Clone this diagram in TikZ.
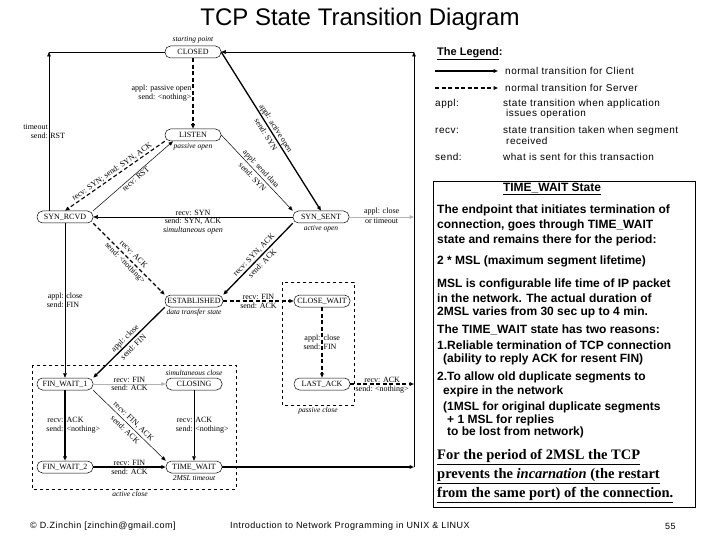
\documentclass[tikz,border=0pt]{standalone}
\usepackage{fontspec}
\setmainfont{Liberation Serif}
\setsansfont{Liberation Sans}
\newfontfamily\legfont[LetterSpace=5]{Liberation Sans}
\usepackage{tikz}
\usetikzlibrary{arrows.meta, positioning, calc}

\begin{document}
\begin{tikzpicture}[x=1pt, y=-1pt,
  >={Triangle[length=4.5pt,width=3.6pt]},
  state/.style={draw, line width=0.5pt, rounded corners=5.5pt, minimum width=56pt,
    minimum height=12pt, inner sep=1pt, font=\fontsize{8}{8.5}\selectfont},
  lbl/.style={font=\fontsize{8}{9}\selectfont, inner sep=1pt},
  slbl/.style={font=\fontsize{8}{12}\selectfont, inner sep=0pt, midway, sloped, align=center},
  note/.style={font=\itshape\fontsize{7.5}{8}\selectfont, inner sep=1pt},
  client/.style={->, line width=1.3pt},
  server/.style={->, line width=1.1pt, dash pattern=on 4pt off 2.5pt},
  trans/.style={->, line width=0.5pt},
  pale/.style={->, line width=0.8pt, draw=gray!60},
  legtxt/.style={font=\legfont\fontsize{10}{9.5}\selectfont, anchor=west, inner sep=0pt},
  foottxt/.style={font=\legfont\fontsize{9}{10}\selectfont, anchor=west, inner sep=0pt},
  boxtxt/.style={font=\sffamily\bfseries\fontsize{12}{14}\selectfont, anchor=west, inner sep=0pt},
  sertxt/.style={font=\bfseries\fontsize{14.5}{17}\selectfont, anchor=west, inner sep=0pt}]
  \fill[white] (0,0) rectangle (720,540);
  \useasboundingbox (0,0) rectangle (720,540);

  % Titulo
  \node[font=\sffamily\fontsize{24}{28}\selectfont] (title) at (360,19) {TCP State Transition Diagram};

  % Estados
  \node[state] (closed) at (193,52) {CLOSED};
  \node[note, above=1pt of closed] (startpt) {starting point};
  \node[state] (listen) at (193,135) {LISTEN};
  \node[note, below=1pt of listen] (pasopen) {passive open};
  \node[state] (synrcvd) at (65,217) {SYN\_RCVD};
  \node[state] (synsent) at (321,217) {SYN\_SENT};
  \node[note, below=1pt of synsent] (actopen) {active open};
  \node[state, minimum width=58pt] (estab) at (194,301) {ESTABLISHED};
  \node[note, below=1pt of estab] (datastate) {data transfer state};
  \node[state] (closewait) at (322,301) {CLOSE\_WAIT};
  \node[state] (finwait1) at (65,384) {FIN\_WAIT\_1};
  \node[state] (closing) at (194,384) {CLOSING};
  \node[note, above=1pt of closing] (simclose) {simultaneous close};
  \node[state] (lastack) at (322,384) {LAST\_ACK};
  \node[state] (finwait2) at (65,467) {FIN\_WAIT\_2};
  \node[state] (timewait) at (194,467) {TIME\_WAIT};
  \node[note, below=1pt of timewait] (msltime) {2MSL timeout};

  % Cajas de cierre
  \draw[dashed, line width=0.5pt] (32,365) rectangle (236,489);
  \node[note, anchor=north] (actclose) at (130,490) {active close};
  \draw[dashed, line width=0.5pt] (282,282) rectangle (354,405);
  \node[note, anchor=north] (pasclose) at (318,406) {passive close};

  % Puntos de retorno
  \coordinate (lt) at (49,52);
  \coordinate (rt) at (414,52);
  \coordinate (rsyn) at (414,217);
  \coordinate (rlast) at (414,384);
  \coordinate (rtw) at (414,467);

  % Apertura
  \draw[server] (closed) -- (listen)
    node[lbl, midway, left, align=right] {appl: passive open\\send: <nothing>};
  \draw[client] (closed.east) -- (synsent.north)
    node[slbl] {appl: active open\\send: SYN};
  \draw[trans] (listen.east) -- (synsent.north west)
    node[slbl] {appl: send data\\send: SYN};
  \draw[server] (listen.south west) -- (synrcvd.north)
    node[lbl, midway, sloped, above] {recv: SYN; send: SYN, ACK};
  \draw[trans] (synrcvd.north east) -- ([xshift=-20pt]listen.south)
    node[lbl, midway, sloped, below] {recv: RST};
  \draw[trans] (synsent) -- (synrcvd)
    node[lbl, midway, above] {recv: SYN}
    node[lbl, midway, below, align=center] {send: SYN, ACK\\\textit{simultaneous open}};
  \draw[server] (synrcvd.south east) -- (estab.north west)
    node[slbl] {recv: ACK\\send: <nothing>};
  \draw[client] (synsent.south west) -- (estab.north east)
    node[slbl] {recv: SYN, ACK\\send: ACK};

  % Retornos a CLOSED
  \draw[trans] (lt |- synrcvd.north) -- (lt)
    node[lbl, pos=0.5, left, align=right] {timeout\\send:}
    node[lbl, pos=0.5, right, yshift=-4.5pt] {RST};
  \draw[line width=0.5pt] (lt) -- (closed);
  \draw[trans] (rtw) -- (rt);
  \draw[trans] (rt) -- (closed);
  \draw[pale] (synsent) -- (rsyn)
    node[lbl, midway, above] {appl: close}
    node[lbl, midway, below] {or timeout};

  % Cierre pasivo
  \draw[server] (estab) -- (closewait)
    node[lbl, midway, above] {recv: FIN}
    node[lbl, midway, below] {send: ACK};
  \draw[server] (closewait) -- (lastack)
    node[lbl, midway, left, align=right] {appl:\\send:}
    node[lbl, midway, right, align=left] {close\\FIN};
  \draw[server] (lastack) -- (rlast)
    node[lbl, midway, above] {recv: ACK}
    node[lbl, midway, below] {send: <nothing>};

  % Cierre activo
  \draw[trans] (synrcvd) -- (finwait1)
    node[lbl, midway, left, align=right] {appl:\\send:}
    node[lbl, midway, right, align=left] {close\\FIN};
  \draw[client] (estab.south west) -- (finwait1.north east)
    node[slbl] {appl: close\\send: FIN};
  \draw[pale] (finwait1) -- (closing)
    node[lbl, midway, above] {recv: FIN}
    node[lbl, midway, below] {send: ACK};
  \draw[client] (finwait1) -- (finwait2)
    node[lbl, midway, left, align=right] {recv:\\send:}
    node[lbl, midway, right, align=left] {ACK\\<nothing>};
  \draw[trans] (finwait1.south east) -- (timewait.north west)
    node[slbl] {recv: FIN, ACK\\send: ACK};
  \draw[trans] (closing) -- (timewait)
    node[lbl, midway, left, align=right] {recv:\\send:}
    node[lbl, midway, right, align=left] {ACK\\<nothing>};
  \draw[client] (finwait2) -- (timewait)
    node[lbl, midway, above] {recv: FIN}
    node[lbl, midway, below] {send: ACK};
  \draw[client] (timewait) -- (rtw);

  % Leyenda
  \node[anchor=west, inner sep=0pt, font=\sffamily\bfseries\fontsize{11}{13}\selectfont] (legtitle) at (437,54) {\underline{The Legend}:};
  \coordinate (lga) at (435,71);
  \coordinate (lgb) at (498,71);
  \draw[client] (lga) -- (lgb);
  \node[legtxt] (lgclient) at (505,71) {normal transition for Client};
  \coordinate (lgc) at (435,88);
  \coordinate (lgd) at (498,88);
  \draw[server] (lgc) -- (lgd);
  \node[legtxt] (lgserver) at (505,88) {normal transition for Server};
  \node[legtxt] (lgappl) at (435,104) {appl:};
  \node[legtxt] (lgappltx) at (503,104) {state transition when application};
  \node[legtxt] (lgappltx2) at (506,114) {issues operation};
  \node[legtxt] (lgrecv) at (435,131) {recv:};
  \node[legtxt] (lgrecvtx) at (503,131) {state transition taken when segment};
  \node[legtxt] (lgrecvtx2) at (506,141) {received};
  \node[legtxt] (lgsend) at (435,157) {send:};
  \node[legtxt] (lgsendtx) at (503,157) {what is sent for this transaction};

  % Caja TIME_WAIT
  \draw[line width=0.8pt] (433,181) rectangle (695,507);
  \node[boxtxt, anchor=center] (twhead) at (552,189) {\underline{TIME\_WAIT State}};
  \node[boxtxt] (tw1) at (437,210) {The endpoint that initiates termination of};
  \node[boxtxt] (tw2) at (437,225) {connection, goes through TIME\_WAIT};
  \node[boxtxt] (tw3) at (437,240) {state and remains there for the period:};
  \node[boxtxt] (tw4) at (437,261) {2 * MSL (maximum segment lifetime)};
  \node[boxtxt] (tw5) at (437,284) {MSL is configurable life time of IP packet};
  \node[boxtxt] (tw6) at (437,298) {in the network. The actual duration of};
  \node[boxtxt] (tw7) at (437,312) {2MSL varies from 30 sec up to 4 min.};
  \node[boxtxt] (tw8) at (437,330) {The TIME\_WAIT state has two reasons:};
  \node[boxtxt] (tw9) at (437,345) {1.Reliable termination of TCP connection};
  \node[boxtxt] (tw10) at (443,359) {(ability to reply ACK for resent FIN)};
  \node[boxtxt] (tw11) at (437,377) {2.To allow old duplicate segments to};
  \node[boxtxt] (tw12) at (443,391) {expire in the network};
  \node[boxtxt] (tw13) at (443,407) {(1MSL for original duplicate segments};
  \node[boxtxt] (tw14) at (447,420) {+ 1 MSL for replies};
  \node[boxtxt] (tw15) at (447,432) {to be lost from network)};
  \node[sertxt] (tw16) at (437,457) {\underline{For the period of 2MSL the TCP}};
  \node[sertxt] (tw17) at (437,476) {\underline{prevents the \textit{incarnation} (the restart}};
  \node[sertxt] (tw18) at (437,495) {\underline{from the same port) of the connection.}};

  % Pie
  \node[foottxt] (foot1) at (30,526) {© D.Zinchin [zinchin@gmail.com]};
  \node[foottxt] (foot2) at (230,526) {Introduction to Network Programming in UNIX \& LINUX};
  \node[foottxt] (foot3) at (665,526) {55};
\end{tikzpicture}
\end{document}
